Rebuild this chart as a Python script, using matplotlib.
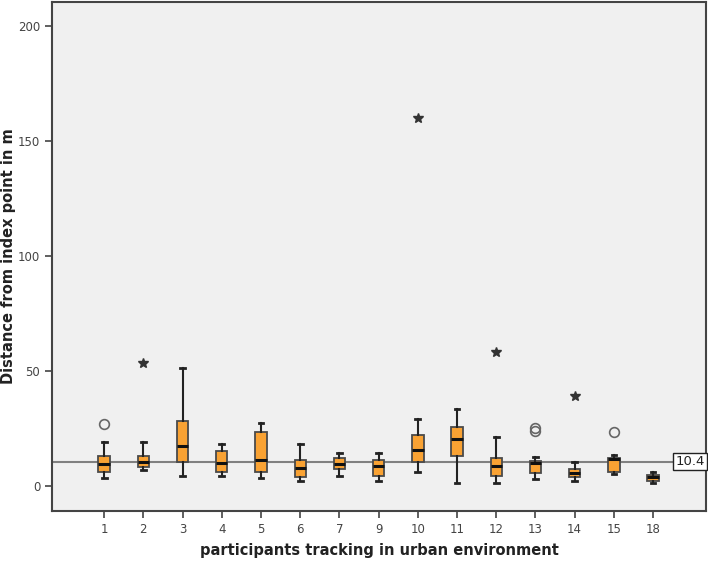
import matplotlib
matplotlib.use("Agg")
import matplotlib.pyplot as plt

participants = ["1", "2", "3", "4", "5", "6", "7", "9", "10", "11", "12", "13", "14", "15", "18"]
whislo = [3.2, 7.0, 4.0, 4.0, 3.2, 2.2, 4.0, 2.2, 6.1, 1.0, 1.0, 3.0, 2.2, 5.1, 1.0]
q1     = [6.0, 8.1, 10.1, 6.1, 6.1, 3.9, 7.2, 4.0, 10.3, 13.0, 4.0, 5.5, 3.6, 5.9, 2.2]
med    = [9.4, 10.1, 17.1, 9.7, 11.0, 7.7, 9.6, 8.7, 15.4, 20.1, 8.6, 9.9, 5.5, 11.6, 3.6]
q3     = [13.0, 13.0, 28.0, 15.2, 23.2, 11.1, 12.0, 11.1, 22.0, 25.5, 12.0, 10.9, 7.2, 12.0, 4.6]
whishi = [19.0, 19.0, 51.0, 18.0, 27.2, 18.0, 14.2, 14.2, 29.1, 33.2, 21.0, 12.3, 10.1, 13.2, 6.1]

circle_outliers = {"1": [27.0], "13": [25.1, 23.9], "15": [23.2]}
star_outliers = {"2": [53.2], "10": [160.0], "12": [58.0], "14": [39.0]}

ref_value = 10.4

fig = plt.figure(figsize=(7.08, 5.67), dpi=100)
ax = fig.add_axes([52/708, 56/567, (706-52)/708, (511-2)/567])
ax.set_facecolor("#f0f0f0")

stats = []
for i, p in enumerate(participants):
    stats.append(dict(label=p, whislo=whislo[i], q1=q1[i], med=med[i],
                      q3=q3[i], whishi=whishi[i], fliers=[]))

positions = list(range(len(participants)))
ax.bxp(stats, positions=positions, widths=0.29, patch_artist=True,
       showfliers=False,
       boxprops=dict(facecolor="#f9a233", edgecolor="#4a4a4a", linewidth=1.3),
       medianprops=dict(color="#111111", linewidth=2.2),
       whiskerprops=dict(color="#222222", linewidth=1.5),
       capprops=dict(color="#222222", linewidth=2.0),
       capwidths=0.12, zorder=3)

ax.axhline(ref_value, color="#808080", linewidth=1.5, zorder=2)
ax.text(15.32, ref_value, "%.1f" % ref_value, ha="right", va="center",
        fontsize=9.5, color="#222222",
        bbox=dict(boxstyle="square,pad=0.15", facecolor="white", edgecolor="#222222", linewidth=1),
        zorder=5)

for p, vals in circle_outliers.items():
    x = participants.index(p)
    ax.plot([x] * len(vals), vals, linestyle="none", marker="o", markersize=7,
            markerfacecolor="none", markeredgecolor="#666666", markeredgewidth=1.2, zorder=4)
for p, vals in star_outliers.items():
    x = participants.index(p)
    ax.plot([x] * len(vals), vals, linestyle="none", marker="*", markersize=7,
            color="#333333", zorder=4)

ax.set_xlim(-1.33, 15.35)
ax.set_ylim(-11, 210.3)
ax.set_yticks([0, 50, 100, 150, 200])
ax.set_xticks(positions)
ax.set_xticklabels(participants)

for s in ax.spines.values():
    s.set_color("#444444")
    s.set_linewidth(1.5)
ax.tick_params(axis="both", direction="out", length=5, width=1.2, color="#444444",
               labelsize=8.5, labelcolor="#444444")

fig.text(379/708, 1 - 551/567, "participants tracking in urban environment", fontsize=10.5,
         fontweight="bold", color="#222222", ha="center", va="center")
fig.text(9/708, 1 - 256/567, "Distance from index point in m", fontsize=10.5,
         fontweight="bold", color="#222222", ha="center", va="center", rotation=90)

fig.savefig("out.png", dpi=100)
